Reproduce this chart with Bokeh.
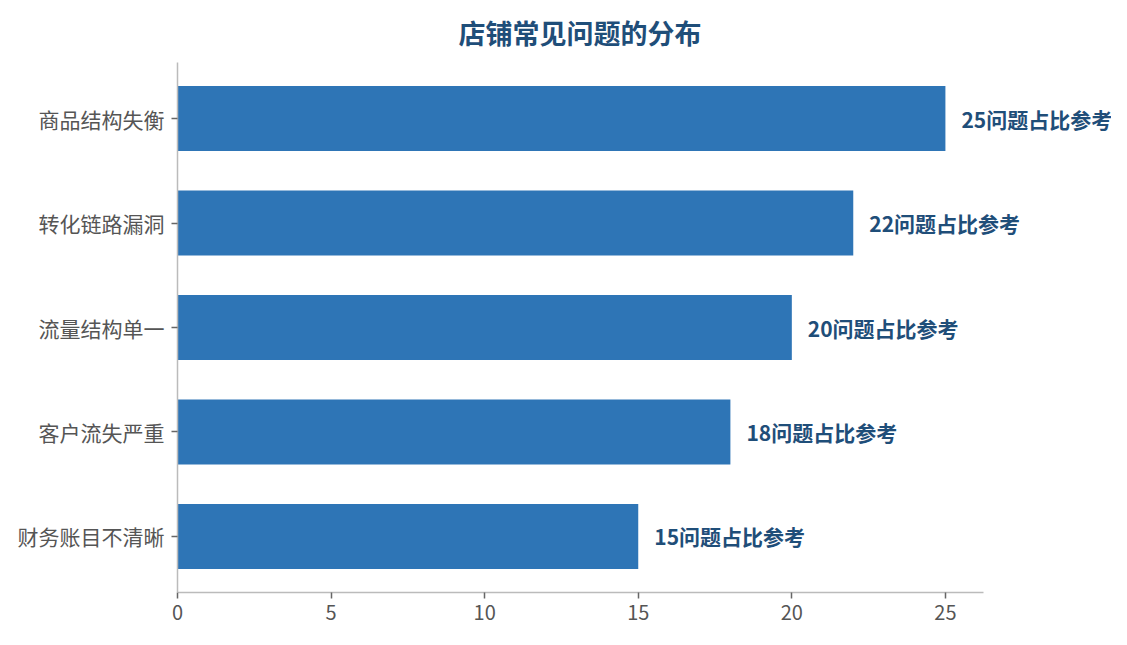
from bokeh.plotting import figure
from bokeh.models import ColumnDataSource, FactorRange, Range1d, FixedTicker
from bokeh.core.properties import value
from bokeh.embed import file_html
from bokeh.resources import INLINE

# 数据
categories = ['财务账目不清晰', '客户流失严重', '流量结构单一', '转化链路漏洞', '商品结构失衡']
counts = [15, 18, 20, 22, 25]
labels = [f"{c}问题占比参考" for c in counts]

FONT = "Noto Sans CJK SC"
BAR_COLOR = "#2e75b6"
LABEL_COLOR = "#1f4e79"

# 轴线只画到 26.24，画布区域向右延伸以免标签被裁剪
AXIS_END = 26.24
PX_PER_UNIT = 806 / AXIS_END
FRAME_LEFT = 177
W = 1111
x_end = (W - FRAME_LEFT) / PX_PER_UNIT

source = ColumnDataSource(dict(cat=categories, count=counts, label=labels))

p = figure(width=W, height=629, output_backend="svg", toolbar_location=None, tools="",
           y_range=FactorRange(factors=categories, range_padding=0.036, range_padding_units="absolute"),
           x_range=Range1d(0, x_end),
           min_border_left=FRAME_LEFT, min_border_right=0, min_border_top=62, min_border_bottom=37)

p.title.text = "店铺常见问题的分布"
p.title.align = "left"
p.title.vertical_align = "middle"
p.title.offset = 281
p.title.standoff = 20
p.title.text_font = FONT
p.title.text_font_size = "27px"
p.title.text_color = LABEL_COLOR
p.title.text_font_style = "bold"

p.hbar(y='cat', right='count', height=0.62, source=source, fill_color=BAR_COLOR, line_color=None)
p.text(x='count', y='cat', text='label', source=source, x_offset=16,
       text_font=value(FONT), text_font_size="21px", text_font_style="bold",
       text_color=LABEL_COLOR, text_baseline="middle", text_align="left")

p.outline_line_color = None
p.xgrid.grid_line_color = None
p.ygrid.grid_line_color = None

for ax in (p.xaxis, p.yaxis):
    ax.axis_line_color = "#bbbbbb"
    ax.axis_line_width = 1.5
    ax.major_tick_line_color = "#666666"
    ax.major_tick_line_width = 1.5
    ax.major_tick_in = 0
    ax.major_tick_out = 6
    ax.minor_tick_line_color = None
    ax.major_label_text_font = FONT
    ax.major_label_text_font_size = "20px"
    ax.major_label_text_color = "#555555"

p.yaxis.major_label_text_font_size = "21px"
p.xaxis.ticker = FixedTicker(ticks=[0, 5, 10, 15, 20, 25])
p.xaxis.bounds = (0, AXIS_END)
p.yaxis.major_label_standoff = 7
p.xaxis.major_label_standoff = 6

open("out.html", "w").write(file_html(p, INLINE))
